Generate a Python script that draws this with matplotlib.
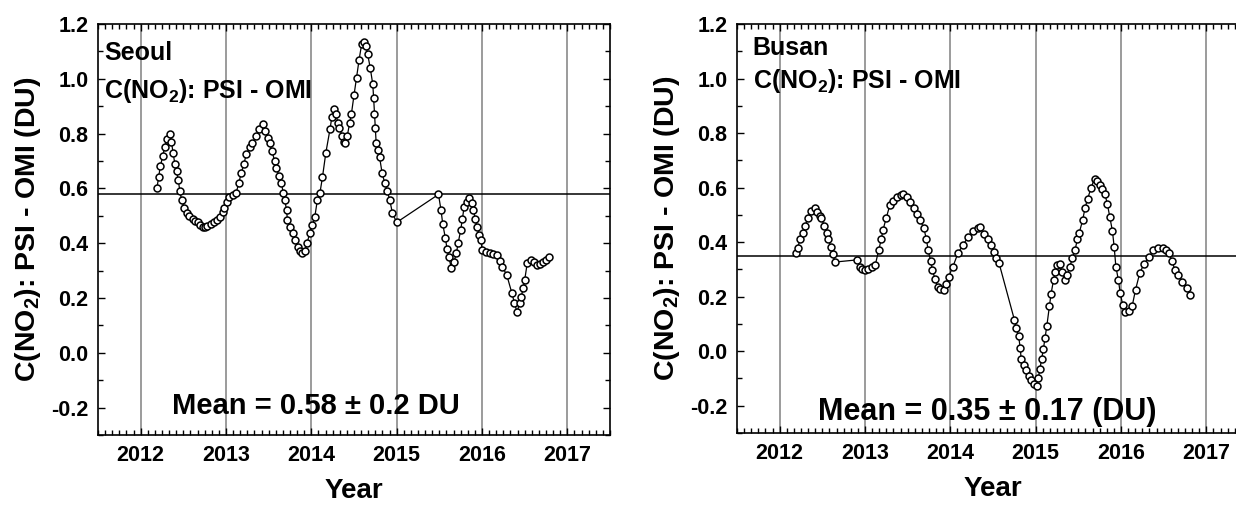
"""
PSI - OMI NO2 column difference for Seoul and Busan, 2012-2016.
"""
#Imports
import numpy as np
import matplotlib
matplotlib.use("Agg")
import matplotlib.pyplot as plt
from matplotlib.ticker import MultipleLocator

# Fonts: Arial-like bold everywhere, subscripts included
plt.rcParams['font.family'] = ['Liberation Sans', 'DejaVu Sans']
plt.rcParams['font.weight'] = 'bold'
plt.rcParams['mathtext.fontset'] = 'custom'
plt.rcParams['mathtext.rm'] = 'Liberation Sans:bold'
plt.rcParams['mathtext.bf'] = 'Liberation Sans:bold'
plt.rcParams['mathtext.default'] = 'bf'

# Seoul series (decimal year, DU)
seoul_year = [
    2012.19, 2012.21, 2012.23, 2012.26, 2012.28, 2012.31, 2012.34, 2012.36, 2012.38, 2012.40,
    2012.42, 2012.44, 2012.46, 2012.48, 2012.51, 2012.54, 2012.57, 2012.61, 2012.64, 2012.67,
    2012.70, 2012.73, 2012.75, 2012.78, 2012.82, 2012.86, 2012.89, 2012.93, 2012.96, 2012.98,
    2013.01, 2013.04, 2013.08, 2013.12, 2013.15, 2013.18, 2013.21, 2013.24, 2013.28, 2013.31,
    2013.35, 2013.39, 2013.43, 2013.46, 2013.49, 2013.51, 2013.54, 2013.57, 2013.59, 2013.62,
    2013.65, 2013.67, 2013.69, 2013.71, 2013.72, 2013.75, 2013.78, 2013.81, 2013.84, 2013.87,
    2013.89, 2013.92, 2013.95, 2013.98, 2014.01, 2014.04, 2014.07, 2014.10, 2014.13, 2014.17,
    2014.22, 2014.24, 2014.27, 2014.29, 2014.31, 2014.33, 2014.36, 2014.38, 2014.40, 2014.42,
    2014.45, 2014.47, 2014.50, 2014.53, 2014.56, 2014.59, 2014.62, 2014.64, 2014.66, 2014.69,
    2014.72, 2014.73, 2014.74, 2014.75, 2014.76, 2014.78, 2014.80, 2014.83, 2014.86, 2014.89,
    2014.92, 2014.95, 2015.00, 2015.49, 2015.52, 2015.54, 2015.57, 2015.59, 2015.61, 2015.64,
    2015.67, 2015.70, 2015.72, 2015.75, 2015.77, 2015.79, 2015.82, 2015.85, 2015.88, 2015.90,
    2015.92, 2015.94, 2015.97, 2015.99, 2016.00, 2016.05, 2016.09, 2016.13, 2016.17, 2016.21,
    2016.24, 2016.29, 2016.35, 2016.38, 2016.41, 2016.44, 2016.46, 2016.48, 2016.50, 2016.53,
    2016.58, 2016.61, 2016.64, 2016.68, 2016.71, 2016.75, 2016.79]
seoul_value = [
    0.60, 0.64, 0.68, 0.72, 0.75, 0.78, 0.80, 0.77, 0.73, 0.69,
    0.665, 0.63, 0.59, 0.556, 0.53, 0.51, 0.50, 0.49, 0.48, 0.476,
    0.468, 0.460, 0.458, 0.462, 0.470, 0.478, 0.484, 0.495, 0.515, 0.53,
    0.55, 0.567, 0.575, 0.585, 0.62, 0.658, 0.69, 0.727, 0.75, 0.764,
    0.79, 0.815, 0.836, 0.81, 0.785, 0.764, 0.735, 0.70, 0.676, 0.645,
    0.618, 0.585, 0.556, 0.52, 0.484, 0.46, 0.436, 0.41, 0.385, 0.37,
    0.364, 0.37, 0.40, 0.436, 0.465, 0.495, 0.556, 0.582, 0.64, 0.73,
    0.818, 0.86, 0.89, 0.87, 0.84, 0.822, 0.79, 0.77, 0.764, 0.79,
    0.84, 0.873, 0.94, 1.004, 1.07, 1.127, 1.135, 1.12, 1.09, 1.04,
    0.98, 0.93, 0.873, 0.82, 0.764, 0.74, 0.713, 0.655, 0.62, 0.59,
    0.556, 0.51, 0.476, 0.578, 0.52, 0.47, 0.42, 0.38, 0.35, 0.31,
    0.33, 0.364, 0.40, 0.447, 0.49, 0.531, 0.55, 0.564, 0.545, 0.52,
    0.49, 0.458, 0.43, 0.41, 0.375, 0.368, 0.364, 0.36, 0.356, 0.335,
    0.313, 0.284, 0.218, 0.182, 0.149, 0.18, 0.204, 0.235, 0.265, 0.327,
    0.338, 0.33, 0.32, 0.325, 0.331, 0.34, 0.35]

# Busan series (decimal year, DU)
busan_year = [
    2012.19, 2012.21, 2012.24, 2012.27, 2012.30, 2012.33, 2012.37, 2012.41, 2012.44, 2012.47,
    2012.49, 2012.52, 2012.55, 2012.57, 2012.60, 2012.62, 2012.65, 2012.91, 2012.94, 2012.97,
    2013.00, 2013.04, 2013.08, 2013.12, 2013.16, 2013.19, 2013.21, 2013.25, 2013.29, 2013.33,
    2013.38, 2013.42, 2013.45, 2013.49, 2013.53, 2013.57, 2013.61, 2013.65, 2013.69, 2013.72,
    2013.74, 2013.77, 2013.79, 2013.82, 2013.85, 2013.88, 2013.92, 2013.95, 2013.98, 2014.03,
    2014.09, 2014.15, 2014.21, 2014.27, 2014.32, 2014.35, 2014.40, 2014.44, 2014.48, 2014.51,
    2014.54, 2014.57, 2014.75, 2014.77, 2014.80, 2014.82, 2014.83, 2014.86, 2014.89, 2014.92,
    2014.95, 2014.98, 2015.01, 2015.03, 2015.05, 2015.07, 2015.09, 2015.11, 2015.13, 2015.16,
    2015.18, 2015.21, 2015.23, 2015.25, 2015.28, 2015.31, 2015.34, 2015.37, 2015.40, 2015.43,
    2015.46, 2015.49, 2015.51, 2015.55, 2015.58, 2015.61, 2015.65, 2015.69, 2015.72, 2015.75,
    2015.78, 2015.81, 2015.84, 2015.87, 2015.90, 2015.92, 2015.94, 2015.97, 2015.99, 2016.02,
    2016.05, 2016.09, 2016.13, 2016.17, 2016.22, 2016.27, 2016.33, 2016.38, 2016.43, 2016.49,
    2016.53, 2016.56, 2016.60, 2016.63, 2016.67, 2016.72, 2016.77, 2016.81]
busan_value = [
    0.36, 0.38, 0.41, 0.433, 0.46, 0.49, 0.515, 0.524, 0.51, 0.495,
    0.49, 0.46, 0.433, 0.41, 0.382, 0.355, 0.327, 0.335, 0.31, 0.30,
    0.298, 0.30, 0.31, 0.316, 0.37, 0.41, 0.444, 0.49, 0.535, 0.55,
    0.564, 0.572, 0.578, 0.565, 0.546, 0.525, 0.505, 0.48, 0.45, 0.41,
    0.37, 0.33, 0.298, 0.265, 0.236, 0.228, 0.225, 0.245, 0.273, 0.31,
    0.36, 0.39, 0.42, 0.44, 0.45, 0.455, 0.43, 0.41, 0.39, 0.364,
    0.34, 0.324, 0.116, 0.085, 0.055, 0.01, -0.029, -0.05, -0.07, -0.09,
    -0.105, -0.12, -0.127, -0.10, -0.065, -0.03, 0.007, 0.05, 0.091, 0.164,
    0.21, 0.262, 0.29, 0.316, 0.32, 0.29, 0.262, 0.28, 0.31, 0.34,
    0.371, 0.41, 0.433, 0.48, 0.527, 0.56, 0.60, 0.633, 0.625, 0.61,
    0.595, 0.578, 0.54, 0.491, 0.44, 0.382, 0.31, 0.26, 0.215, 0.17,
    0.142, 0.148, 0.164, 0.225, 0.287, 0.32, 0.345, 0.37, 0.378, 0.378,
    0.37, 0.36, 0.33, 0.298, 0.28, 0.255, 0.23, 0.207]

# Period means
seoul_mean = 0.58
busan_mean = 0.35
seoul_mean_label = "Mean = 0.58 \u00b1 0.2 DU"
busan_mean_label = "Mean = 0.35 \u00b1 0.17 (DU)"

year_ticks = [2012, 2013, 2014, 2015, 2016, 2017]
y_label = r"C(NO$_{2}$): PSI - OMI (DU)"
series_label = r"C(NO$_{2}$): PSI - OMI"


def draw_panel(ax, years, values, mean, city, mean_label, text_pos, mean_pos, mean_size):
    """Draw one station panel"""
    # year grid
    for yr in year_ticks:
        ax.axvline(yr, color='#808080', lw=1.1, zorder=1)
    # mean line
    ax.axhline(mean, color='black', lw=1.1, zorder=2)

    ax.plot(years, values, '-', color='black', lw=0.9, zorder=3,
            marker='o', markersize=5, markerfacecolor='white',
            markeredgecolor='black', markeredgewidth=1.1)

    ax.set_xlim(2011.5, 2017.5)
    ax.set_ylim(-0.3, 1.2)
    ax.set_xticks(year_ticks)
    ax.set_xticklabels([str(y) for y in year_ticks])
    ax.xaxis.set_minor_locator(MultipleLocator(1 / 12))
    ax.yaxis.set_major_locator(MultipleLocator(0.2))
    ax.yaxis.set_minor_locator(MultipleLocator(0.1))
    ax.yaxis.set_major_formatter(plt.FuncFormatter(lambda v, p: "%.1f" % v))

    ax.tick_params(which='both', direction='in', top=True, right=True,
                   width=1.0, labelsize=15.5, pad=7)
    ax.tick_params(which='major', length=5)
    ax.tick_params(which='minor', length=3.5)
    for side in ax.spines.values():
        side.set_linewidth(1.2)

    ax.set_xlabel("Year", fontsize=20, fontweight='bold', labelpad=9)
    ax.set_ylabel(y_label, fontsize=20.5, fontweight='bold', labelpad=6)

    ax.text(text_pos[0], text_pos[1], city, transform=ax.transAxes,
            fontsize=18, fontweight='bold', va='top', ha='left')
    ax.text(text_pos[0], text_pos[2], series_label, transform=ax.transAxes,
            fontsize=18, fontweight='bold', va='top', ha='left')
    ax.text(mean_pos[0], mean_pos[1], mean_label, transform=ax.transAxes,
            fontsize=mean_size, fontweight='bold', va='baseline', ha='left')


fig = plt.figure(figsize=(12.36, 5.05), dpi=100)

# panels placed by hand, the right one runs past the page edge
ax1 = fig.add_axes([98 / 1236, 1 - 435 / 505, 512 / 1236, 411 / 505])
ax2 = fig.add_axes([737 / 1236, 1 - 433 / 505, 512 / 1236, 409 / 505])

draw_panel(ax1, seoul_year, seoul_value, seoul_mean, "Seoul", seoul_mean_label,
           (0.012, 0.958, 0.872), (0.145, 0.05), 21)
draw_panel(ax2, busan_year, busan_value, busan_mean, "Busan", busan_mean_label,
           (0.031, 0.970, 0.895), (0.158, 0.032), 22)

fig.savefig("out.png", dpi=100)
